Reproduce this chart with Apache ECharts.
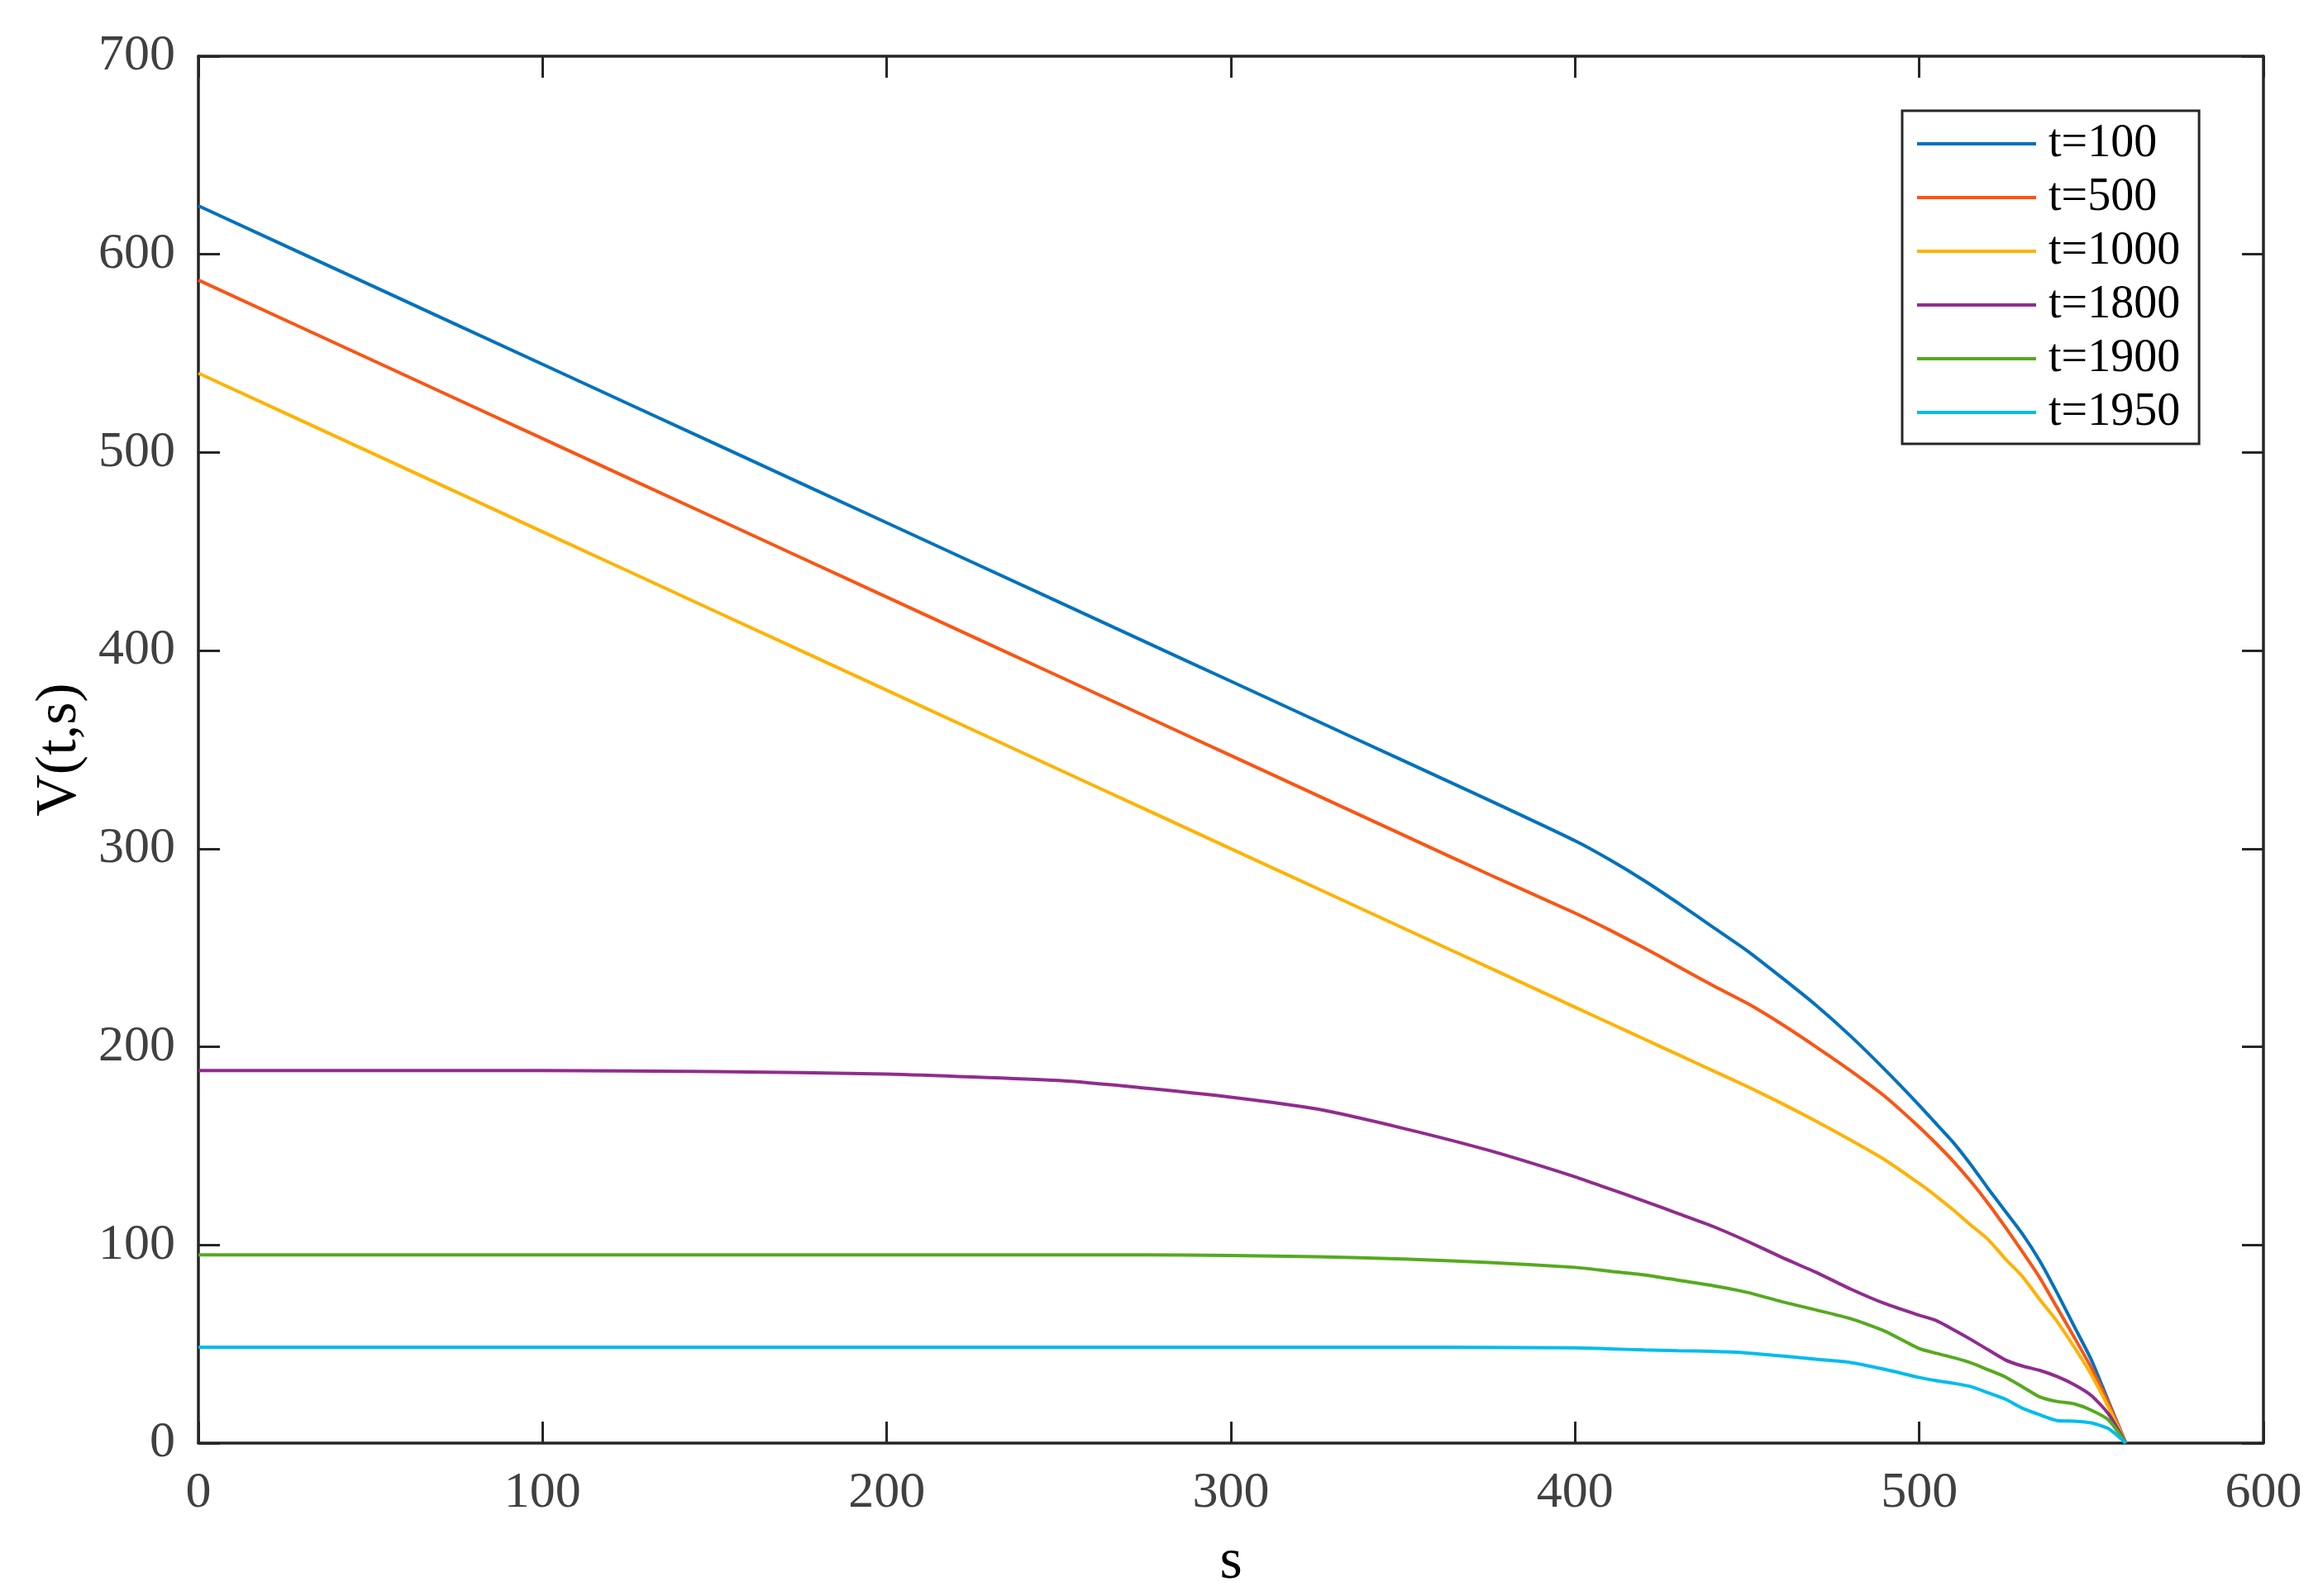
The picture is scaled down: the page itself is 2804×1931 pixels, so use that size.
<!DOCTYPE html>
<html>
<head>
<meta charset="utf-8">
<title>V(t,s)</title>
<script src="https://cdn.jsdelivr.net/npm/echarts@6/dist/echarts.min.js"></script>
<style>
  html, body { margin: 0; padding: 0; background: #fff; }
  #chart { width: 2804px; height: 1931px; }
</style>
</head>
<body>
<div id="chart"></div>
<script>
const sGrid = [0, 50, 100, 150, 200, 250, 275, 300, 325, 350, 375, 400, 410, 420, 430, 440, 450, 460, 470, 480, 490,
  500, 505, 510, 515, 520, 525, 530, 535, 540, 545, 550, 555, 560];

const vT100 = [624.5, 584.5, 544.5, 504.5, 464.5, 424.5, 404.5, 384.5, 364.5, 344.5, 324.5, 304, 294.5, 284, 272.5, 260.5, 248.5, 235, 221, 205.5, 188.5,
  170.5, 161, 151.5, 140.5, 128.5, 117, 105.5, 92, 76, 59, 42, 21, 0];
const vT500 = [587, 547, 507, 467, 427, 387, 367, 347, 327, 307, 287, 267.5, 259, 250, 240.5, 231, 222, 211.5, 200, 188, 175,
  159.5, 151, 142, 132, 121, 109, 96.5, 83.5, 68.5, 53.5, 38, 20, 0];
const vT1000 = [540, 500, 460, 420, 380, 340, 320, 300, 280, 260, 240, 220, 212, 204, 196, 188, 180, 171.5, 162.5, 153, 143,
  131, 124.5, 117.5, 110, 102.8, 93, 84, 72.5, 61.5, 48.5, 34.5, 18, 0];
const vT1800 = [188, 188, 188, 187.5, 186.3, 183, 179.2, 174.6, 168.6, 158.9, 147.7, 134.4, 128.3, 122.2, 115.8, 109.4, 101.9, 93.8, 86.2, 77.8, 70.4,
  64.5, 61.8, 57.2, 52.3, 47.1, 42, 38.9, 36.7, 33.6, 29.5, 24, 14.7, 0];
const vT1900 = [95, 95, 95, 95, 95, 95, 95, 94.7, 94.1, 92.9, 91.2, 88.7, 86.8, 84.9, 82.2, 79.5, 76.1, 71.4, 67.2, 62.8, 56.5,
  47.7, 45.3, 43.1, 40.5, 37, 33.4, 28.4, 23.3, 21, 19.8, 16.6, 11.7, 0];
const vT1950 = [48.4, 48.4, 48.4, 48.4, 48.4, 48.4, 48.4, 48.4, 48.4, 48.4, 48.3, 48.1, 47.6, 47.0, 46.6, 46.3, 45.5, 44, 42.3, 40.7, 37.2,
  33.1, 31.5, 30.2, 28.5, 25.4, 22.2, 17.6, 14.3, 11.4, 11.1, 10.2, 7.3, 0];

const seriesNames = ['t=100', 't=500', 't=1000', 't=1800', 't=1900', 't=1950'];
const seriesValues = [vT100, vT500, vT1000, vT1800, vT1900, vT1950];
const seriesColors = ['#0072BD', '#FA5514', '#FFB200', '#902C8E', '#55AA1E', '#00BCEE'];

const FONT = '"Liberation Serif", "DejaVu Serif", serif';
const FRAME = '#262626';

const chart = echarts.init(document.getElementById('chart'));

const baseAxis = (extra) => Object.assign({
  type: 'value',
  splitLine: { show: false },
  axisLine: { show: true, onZero: false, lineStyle: { color: FRAME, width: 3.5 } },
  axisTick: { show: true, inside: true, length: 26, lineStyle: { color: FRAME, width: 3 } },
}, extra);

chart.setOption({
  backgroundColor: '#fff',
  animation: false,
  grid: { left: 240, right: 66, top: 68, bottom: 182, containLabel: false },
  legend: {
    orient: 'vertical',
    left: 2301,
    top: 134,
    padding: [12, 23, 10, 18],
    borderColor: FRAME,
    borderWidth: 3,
    backgroundColor: '#fff',
    icon: 'rect',
    itemWidth: 144,
    itemHeight: 4,
    itemGap: 9,
    textStyle: { fontFamily: FONT, fontSize: 56, lineHeight: 56, color: '#000', padding: [0, 0, 0, 10] },
    data: seriesNames,
  },
  xAxis: [
    baseAxis({
      min: 0, max: 600, interval: 100,
      name: 's', nameLocation: 'middle', nameGap: 110,
      nameTextStyle: { fontFamily: FONT, fontSize: 70, color: '#000' },
      axisLabel: { margin: 30, fontFamily: FONT, fontSize: 62, color: '#404040' },
    }),
    baseAxis({ position: 'top', min: 0, max: 600, interval: 100, axisLabel: { show: false } }),
  ],
  yAxis: [
    baseAxis({
      min: 0, max: 700, interval: 100,
      name: 'V(t,s)', nameLocation: 'middle', nameGap: 130,
      nameTextStyle: { fontFamily: FONT, fontSize: 70, color: '#000' },
      axisLabel: { margin: 28, fontFamily: FONT, fontSize: 62, color: '#404040' },
    }),
    baseAxis({ position: 'right', min: 0, max: 700, interval: 100, axisLabel: { show: false } }),
  ],
  series: seriesNames.map((name, i) => ({
    name,
    type: 'line',
    xAxisIndex: 0,
    yAxisIndex: 0,
    data: sGrid.map((s, j) => [s, seriesValues[i][j]]),
    showSymbol: false,
    symbol: 'none',
    smooth: 0.2,
    color: seriesColors[i],
    itemStyle: { color: seriesColors[i] },
    lineStyle: { width: 4, color: seriesColors[i] },
  })),
});
</script>
</body>
</html>
